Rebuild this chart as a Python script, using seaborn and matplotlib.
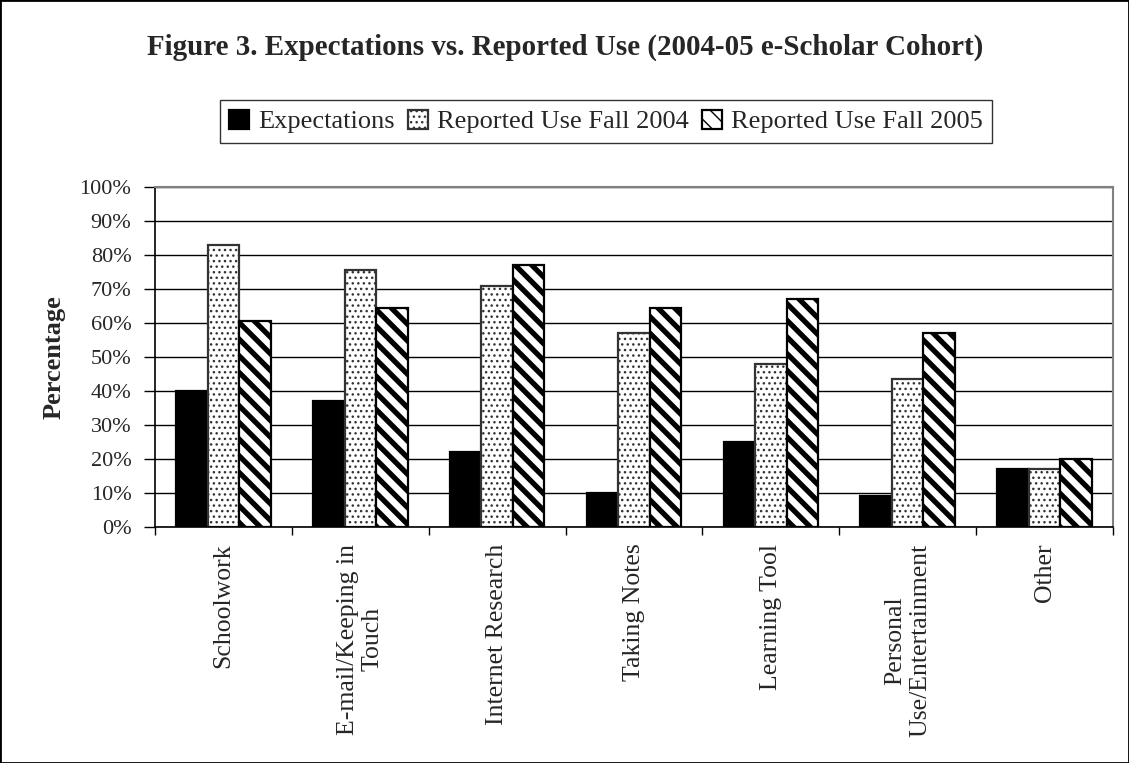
import matplotlib
matplotlib.use("Agg")
import matplotlib.pyplot as plt
import seaborn as sns
import pandas as pd
from matplotlib.patches import Rectangle
from matplotlib.ticker import FixedLocator

# ---------------- data ----------------
categories = ["Schoolwork", "E-mail/Keeping in\nTouch", "Internet Research",
              "Taking Notes", "Learning Tool", "Personal\nUse/Entertainment", "Other"]
series_names = ["Expectations", "Reported Use Fall 2004", "Reported Use Fall 2005"]
expectations = [40, 37, 22, 10, 25, 9, 17]
fall_2004 = [83, 75.5, 71, 57, 48, 43.5, 17]
fall_2005 = [60.5, 64.5, 77, 64.5, 67, 57, 20]
y_ticks = [0, 10, 20, 30, 40, 50, 60, 70, 80, 90, 100]
y_tick_labels = [f"{v}%" for v in y_ticks]
title_text = "Figure 3. Expectations vs. Reported Use (2004-05 e-Scholar Cohort)"
y_label = "Percentage"

df = pd.DataFrame({
    "Category": categories * 3,
    "Series": [series_names[0]] * 7 + [series_names[1]] * 7 + [series_names[2]] * 7,
    "Value": expectations + fall_2004 + fall_2005,
})

# ---------------- style ----------------
sns.set_theme(style="white")
plt.rcParams["font.family"] = ["Liberation Serif", "DejaVu Serif"]
plt.rcParams["hatch.linewidth"] = 1.0

W, H = 1129, 763
fig = plt.figure(figsize=(W / 100, H / 100), dpi=100)
fig.patch.set_facecolor("white")
ax = fig.add_axes([155 / W, 1 - 527 / H, (1113 - 155) / W, (527 - 187) / H])

sns.barplot(data=df, x="Category", y="Value", hue="Series", order=categories,
            hue_order=series_names, palette=["black", "white", "white"],
            width=0.69, gap=0, edgecolor="black", linewidth=1.6, saturation=1,
            legend=False, ax=ax)

hatches = [None, "...", "\\\\"]
hlw = [1.0, 1.0, 3.8]
edgec = ["black", "#333333", "black"]
for i, cont in enumerate(ax.containers):
    for bar in cont:
        bar.set_edgecolor(edgec[i])
        if hatches[i]:
            bar.set_hatch(hatches[i])
        if hasattr(bar, "set_hatch_linewidth"):
            bar.set_hatch_linewidth(hlw[i])

ax.set_ylim(0, 100)
ax.set_xlim(-0.5, len(categories) - 0.5)
ax.yaxis.set_major_locator(FixedLocator(y_ticks))
ax.set_yticklabels(y_tick_labels, fontsize=16)
ax.set_axisbelow(True)
ax.yaxis.grid(True, color="black", linewidth=1.0)
ax.xaxis.grid(False)

# x ticks: labels at centers, tick marks at boundaries
ax.set_xticks(range(len(categories)))
ax.set_xticklabels(categories, rotation=90, fontsize=18.5, ha="center", va="top",
                   multialignment="center")
ax.tick_params(axis="x", length=0, pad=12)
ax.set_xticks([i - 0.5 for i in range(len(categories) + 1)], minor=True)
ax.tick_params(axis="x", which="minor", length=6, width=1, color="black", direction="out", bottom=True)
ax.tick_params(axis="y", length=8, width=1, color="black", direction="out", left=True, pad=9)

ax.set_xlabel("")
ax.set_ylabel(y_label, fontsize=19, fontweight="bold")
ax.yaxis.set_label_coords(-0.093, 0.5)

for side in ["top", "right"]:
    ax.spines[side].set_color("#808080")
    ax.spines[side].set_linewidth(1.5)
for side in ["left", "bottom"]:
    ax.spines[side].set_color("black")
    ax.spines[side].set_linewidth(1.2)

# title
fig.text(565 / W, 1 - 47 / H, title_text, ha="center", va="center",
         fontsize=20.9, fontweight="bold")

# legend
handles = [cont[0] for cont in ax.containers]
leg = fig.legend(handles, series_names, loc="center", bbox_to_anchor=(606 / W, 1 - 121.5 / H),
                 ncol=3, fontsize=19, frameon=True, fancybox=False, edgecolor="black",
                 handlelength=0.75, handleheight=0.75, handletextpad=0.35, columnspacing=0.5,
                 borderpad=0.35, borderaxespad=0)
leg.get_frame().set_linewidth(1.0)

# outer border
fig.patches.append(Rectangle((0, 0), 1, 1, transform=fig.transFigure, fill=False,
                             edgecolor="black", linewidth=2, zorder=10))

fig.savefig("out.png", dpi=100)
